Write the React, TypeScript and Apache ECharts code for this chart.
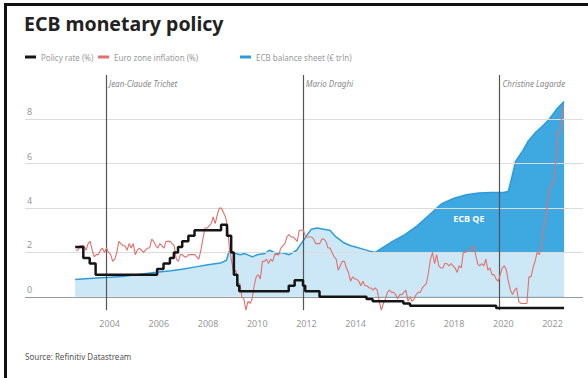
import React, { useEffect, useRef } from "react";
import * as echarts from "echarts";

// ---- Data ----
// Euro zone HICP inflation (%), monthly from Aug 2002 to Jun 2022
const inflationStartYear = 2002;
const inflationStartMonth = 7; // August (0-based)
const inflationValues = [
  2.1, 2.1, 2.3, 2.3, 2.3,
  2.1, 2.4, 2.5, 2.1, 1.8, 1.9, 1.9, 2.1, 2.2, 2.0, 2.2, 2.0,
  1.9, 1.6, 1.7, 2.0, 2.5, 2.4, 2.3, 2.3, 2.1, 2.4, 2.2, 2.4,
  1.9, 2.1, 2.2, 2.1, 2.0, 2.1, 2.2, 2.2, 2.6, 2.5, 2.3, 2.2,
  2.4, 2.3, 2.2, 2.5, 2.5, 2.5, 2.4, 2.3, 1.7, 1.6, 1.9, 1.9,
  1.8, 1.8, 1.9, 1.9, 1.9, 1.9, 1.8, 1.7, 2.1, 2.6, 3.1, 3.1,
  3.2, 3.3, 3.6, 3.3, 3.7, 4.0, 4.0, 3.8, 3.6, 3.2, 2.1, 1.6,
  1.1, 1.2, 0.6, 0.6, 0.0, -0.1, -0.6, -0.2, -0.3, -0.1, 0.5, 0.9,
  1.0, 0.8, 1.6, 1.6, 1.7, 1.5, 1.7, 1.6, 1.9, 1.9, 1.9, 2.2,
  2.3, 2.4, 2.7, 2.8, 2.7, 2.7, 2.6, 2.5, 3.0, 3.0, 3.0, 2.7,
  2.7, 2.7, 2.7, 2.6, 2.4, 2.4, 2.4, 2.6, 2.6, 2.5, 2.2, 2.2,
  2.0, 1.8, 1.7, 1.2, 1.4, 1.6, 1.6, 1.3, 1.1, 0.7, 0.9, 0.8,
  0.8, 0.7, 0.5, 0.7, 0.5, 0.5, 0.4, 0.4, 0.3, 0.4, 0.3, -0.2,
  -0.6, -0.3, -0.1, 0.2, 0.3, 0.2, 0.2, 0.1, -0.1, 0.1, 0.1, 0.2,
  0.3, -0.2, 0.0, -0.2, -0.1, 0.1, 0.2, 0.2, 0.4, 0.5, 0.6, 1.1,
  1.7, 2.0, 1.5, 1.9, 1.4, 1.3, 1.3, 1.5, 1.5, 1.4, 1.5, 1.4,
  1.3, 1.1, 1.4, 1.3, 2.0, 2.0, 2.1, 2.1, 2.1, 2.3, 1.9, 1.5,
  1.4, 1.5, 1.4, 1.7, 1.2, 1.3, 1.0, 1.0, 0.8, 0.7, 1.0, 1.3,
  1.4, 1.2, 0.7, 0.3, 0.1, 0.3, 0.4, -0.2, -0.3, -0.3, -0.3, -0.3,
  0.9, 0.9, 1.3, 1.6, 2.0, 1.9, 2.2, 3.0, 3.4, 4.1, 4.9, 5.0,
  5.1, 5.9, 7.4, 7.4, 8.1, 8.6,
];

// ECB policy (deposit) rate (%), change dates (decimal years) and new levels
const policyDates = [
  2002.6, 2002.93, 2003.19, 2003.43, 2005.93, 2006.19, 2006.45, 2006.61, 2006.78,
  2006.95, 2007.2, 2007.45, 2008.53, 2008.77, 2008.86, 2008.94, 2009.05, 2009.19,
  2009.27, 2011.28, 2011.52, 2011.86, 2011.95, 2012.53, 2014.44, 2014.69, 2015.94,
  2016.21, 2019.71, 2022.47,
];
const policyValues = [
  2.25, 1.75, 1.5, 1.0, 1.25, 1.5, 1.75, 2.0, 2.25,
  2.5, 2.75, 3.0, 3.25, 2.75, 2.75, 2.0, 1.0, 0.5,
  0.25, 0.5, 0.75, 0.5, 0.25, 0.0, -0.1, -0.2, -0.3,
  -0.4, -0.5, -0.5,
];

// ECB balance sheet (EUR trln)
const balanceDates = [
  2002.6, 2003.0, 2003.5, 2004.0, 2004.5, 2005.0, 2005.5, 2006.0, 2006.5, 2007.0,
  2007.5, 2008.0, 2008.5, 2008.75, 2008.85, 2009.0, 2009.3, 2009.5, 2009.8, 2010.0,
  2010.3, 2010.5, 2010.8, 2011.0, 2011.3, 2011.6, 2011.85, 2012.0, 2012.2, 2012.45,
  2012.7, 2012.95, 2013.2, 2013.5, 2013.8, 2014.0, 2014.3, 2014.6, 2014.8, 2015.0,
  2015.5, 2016.0, 2016.5, 2017.0, 2017.5, 2018.0, 2018.5, 2019.0, 2019.5, 2020.0,
  2020.2, 2020.35, 2020.5, 2020.8, 2021.0, 2021.3, 2021.6, 2021.9, 2022.2, 2022.47,
];
const balanceValues = [
  0.78, 0.82, 0.85, 0.88, 0.92, 0.98, 1.05, 1.12, 1.18, 1.25,
  1.35, 1.45, 1.52, 1.65, 2.05, 2.0, 1.9, 1.95, 1.8, 1.9,
  1.95, 2.1, 1.95, 2.0, 1.9, 2.1, 2.5, 2.75, 3.05, 3.1,
  3.05, 3.0, 2.7, 2.45, 2.3, 2.25, 2.15, 2.05, 2.0, 2.15,
  2.5, 2.8, 3.2, 3.7, 4.2, 4.45, 4.6, 4.68, 4.7, 4.7,
  4.75, 5.4, 6.1, 6.6, 7.0, 7.4, 7.7, 8.05, 8.5, 8.8,
];
const qeStart = 2014.8;
const qeBase = 2.0;

// ECB presidents (start dates)
const presidentNames = ["Jean-Claude Trichet", "Mario Draghi", "Christine Lagarde"];
const presidentStarts = [2003.85, 2011.85, 2019.85];

const xTickLabels = [2004, 2006, 2008, 2010, 2012, 2014, 2016, 2018, 2020, 2022];
const yTickLabels = [0, 2, 4, 6, 8];
const yGridLines = [2, 4, 6, 8];

const FONT = "'Noto Sans', 'Open Sans', sans-serif";

export default function App() {
  const ref = useRef<HTMLDivElement>(null);

  useEffect(() => {
    if (!ref.current) return;
    const chart = echarts.init(ref.current, undefined, { renderer: "svg" });

    const inflationData = inflationValues.map((v, i) => [
      inflationStartYear + (inflationStartMonth + i + 0.5) / 12,
      v,
    ]);
    const policyData = policyDates.map((d, i) => [d, policyValues[i]]);
    const balanceData = balanceDates.map((d, i) => [d, balanceValues[i]]);
    const lightData = balanceDates.map((d, i) => [
      d,
      d <= qeStart ? balanceValues[i] : Math.min(balanceValues[i], qeBase),
    ]);
    const darkData = balanceDates
      .map((d, i) => [d, balanceValues[i]])
      .filter((p) => p[0] >= qeStart);

    const legendText = { color: "#9a9a9a", fontSize: 8, fontFamily: FONT };
    const mkLegend = (name: string, left: number) => ({
      data: [name],
      left,
      top: 53,
      padding: 0,
      icon: "rect",
      itemWidth: 11,
      itemHeight: 3,
      itemGap: 5,
      selectedMode: false,
      textStyle: legendText,
    });

    chart.setOption({
      animation: false,
      backgroundColor: "#fff",
      title: {
        text: "ECB monetary policy",
        left: 24,
        top: 13,
        padding: 0,
        textStyle: { fontFamily: FONT, fontSize: 19.5, fontWeight: "bold", color: "#222" },
      },
      legend: [
        mkLegend("Policy rate (%)", 25),
        mkLegend("Euro zone inflation (%)", 98),
        mkLegend("ECB balance sheet (€ trln)", 240),
      ],
      graphic: [
        { type: "line", shape: { x1: 4, y1: 4.5, x2: 588, y2: 4.5 }, style: { stroke: "#111", lineWidth: 3 } },
        { type: "line", shape: { x1: 5.5, y1: 3, x2: 5.5, y2: 378 }, style: { stroke: "#111", lineWidth: 3 } },
        {
          type: "text",
          left: 25,
          top: 352,
          style: { text: "Source: Refinitiv Datastream", fontSize: 8, fill: "#555", fontFamily: FONT },
        },
      ],
      grid: { left: 25, right: 5, top: 75, bottom: 59 },
      xAxis: {
        type: "value",
        min: 2000.56,
        max: 2023.24,
        axisLine: { show: false },
        axisTick: { show: false },
        splitLine: { show: false },
        axisLabel: {
          customValues: xTickLabels,
          margin: 0,
          fontSize: 9,
          color: "#999",
          fontFamily: FONT,
          formatter: (v: number) => String(Math.round(v)),
        },
      },
      yAxis: {
        type: "value",
        min: -1,
        max: 10,
        axisLine: { show: false },
        axisTick: { show: false },
        splitLine: { show: false },
        axisLabel: {
          customValues: yTickLabels,
          inside: true,
          margin: 2,
          verticalAlign: "bottom",
          padding: [0, 0, 3, 0],
          fontSize: 9,
          color: "#999",
          fontFamily: FONT,
        },
      },
      series: [
        {
          type: "line",
          data: [[2003, 0]],
          showSymbol: false,
          lineStyle: { opacity: 0 },
          silent: true,
          z: 0,
          markLine: {
            silent: true,
            symbol: ["none", "none"],
            label: { show: false },
            lineStyle: { color: "#dcdcdc", width: 1, type: "solid" },
            data: yGridLines.map((v) => ({ yAxis: v })),
          },
        },
        {
          name: "QE",
          type: "line",
          data: darkData,
          showSymbol: false,
          lineStyle: { width: 0 },
          areaStyle: { color: "#3ea8e0", opacity: 1 },
          silent: true,
          z: 1,
          markPoint: {
            symbol: "circle",
            symbolSize: 0,
            silent: true,
            data: [{ coord: [2018.6, 3.55], name: "ECB QE" }],
            label: {
              show: true,
              position: "inside",
              formatter: "{b}",
              color: "#fff",
              fontWeight: "bold",
              fontSize: 9,
              fontFamily: FONT,
            },
          },
        },
        {
          name: "base",
          type: "line",
          data: lightData,
          showSymbol: false,
          lineStyle: { width: 0 },
          areaStyle: { color: "#cce8f7", opacity: 1 },
          silent: true,
          z: 2,
        },
        {
          type: "line",
          data: [[2003, 0]],
          showSymbol: false,
          lineStyle: { opacity: 0 },
          silent: true,
          z: 3,
          markLine: {
            silent: true,
            symbol: ["none", "none"],
            label: { show: false },
            data: [
              { yAxis: 0, lineStyle: { color: "#9a9a9a", width: 1, type: "solid" } },
              ...presidentStarts.map((s) => [
                { coord: [s, -0.6], lineStyle: { color: "#555", width: 1.2, type: "solid" } },
                { coord: [s, 10] },
              ]),
            ],
          },
          markPoint: {
            symbol: "circle",
            symbolSize: 0,
            silent: true,
            data: presidentStarts.map((s, i) => ({ coord: [s, 9.6], name: presidentNames[i] })),
            label: {
              show: true,
              position: "right",
              distance: 3,
              formatter: "{b}",
              color: "#888",
              fontStyle: "italic",
              fontSize: 8,
              fontFamily: FONT,
            },
          },
        },
        {
          name: "ECB balance sheet (€ trln)",
          type: "line",
          data: balanceData,
          showSymbol: false,
          color: "#2d9cd9",
          lineStyle: { width: 1.5, color: "#2d9cd9" },
          z: 4,
        },
        {
          name: "Euro zone inflation (%)",
          type: "line",
          data: inflationData,
          showSymbol: false,
          color: "#e3706c",
          lineStyle: { width: 1.1, color: "#e3706c" },
          z: 5,
        },
        {
          name: "Policy rate (%)",
          type: "line",
          data: policyData,
          step: "end",
          showSymbol: false,
          color: "#151515",
          lineStyle: { width: 2.5, color: "#151515" },
          z: 6,
        },
      ],
    });

    return () => chart.dispose();
  }, []);

  return (
    <div
      ref={ref}
      style={{ position: "fixed", left: 0, top: 0, width: 588, height: 378, background: "#fff" }}
    />
  );
}
